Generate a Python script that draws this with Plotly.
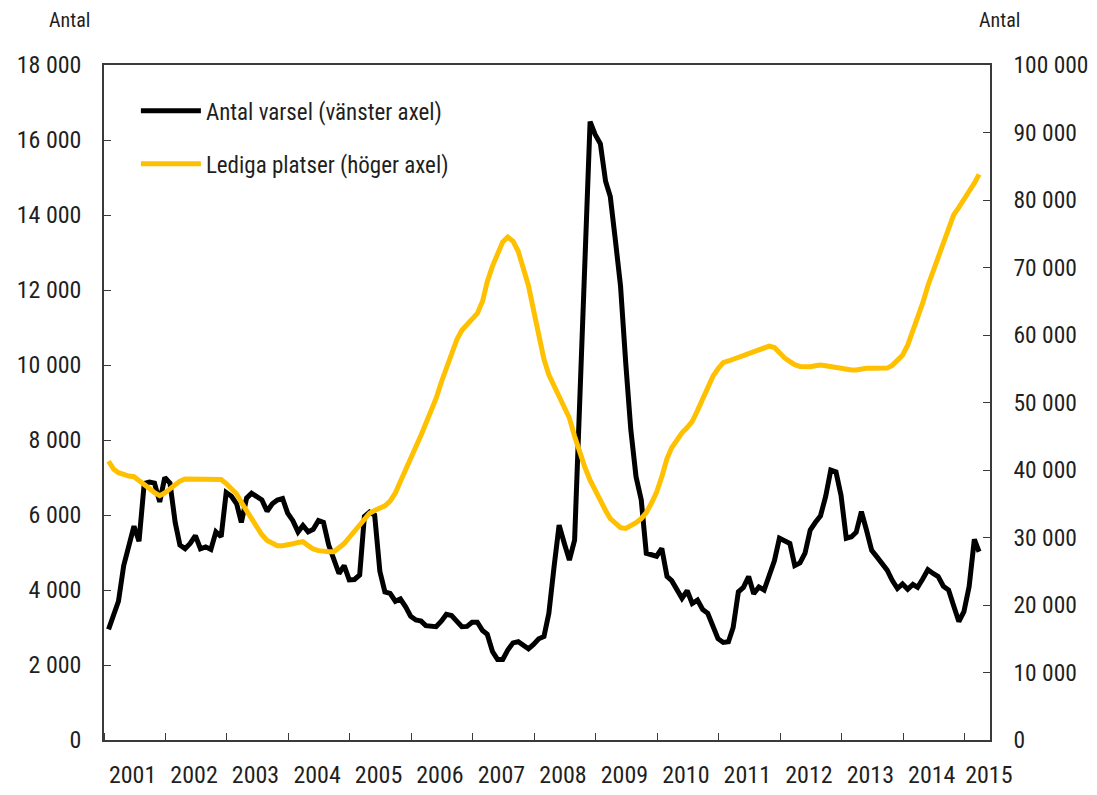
import plotly.graph_objects as go

# ---- data (monthly, Jan 2001 - Mar 2015) ----
start_year = 2001
n_months = 171
month_dates = [f"{start_year + i // 12}-{i % 12 + 1:02d}-28" for i in range(n_months)]

varsel = [
    2950, 3350, 3700, 4650, 5200, 5700, 5300, 6840, 6880, 6850, 6350, 7000,
    6850, 5800, 5200, 5100, 5240, 5450, 5100, 5150, 5080, 5550, 5420, 6600,
    6500, 6300, 5800, 6450, 6580, 6500, 6400, 6100, 6300, 6400, 6440, 6050,
    5850, 5550, 5720, 5550, 5620, 5850, 5800, 5200, 4800, 4440, 4650, 4270,
    4280, 4400, 5960, 6080, 6000, 4500, 3950, 3910, 3700, 3760, 3550, 3300,
    3200, 3170, 3050, 3020, 3020, 3170, 3350, 3320, 3150, 3020, 3030, 3140,
    3140, 2920, 2820, 2360, 2150, 2150, 2400, 2590, 2620, 2520, 2430, 2550,
    2700, 2760, 3380, 4620, 5730, 5240, 4800, 5330, 9300, 13000, 16490, 16150,
    15900, 14900, 14490, 13300, 12100, 10040, 8270, 7020, 6400, 4980, 4950, 4900,
    5110, 4360, 4250, 4000, 3780, 3980, 3640, 3730, 3480, 3380, 3050, 2700,
    2600, 2620, 3000, 3950, 4070, 4360, 3900, 4080, 4000, 4420, 4780, 5380,
    5320, 5240, 4650, 4720, 4980, 5600, 5800, 5980, 6500, 7200, 7150, 6520,
    5380, 5420, 5540, 6090, 5600, 5060, 4890, 4700, 4530, 4260, 4040, 4160,
    4020, 4150, 4070, 4300, 4540, 4440, 4360, 4100, 4000, 3580, 3160, 3420,
    4090, 5350, 5020,
]

lediga = [
    41300, 40100, 39600, 39250, 39100, 39000, 38500, 37850, 37250, 36650, 36200, 36600,
    37200, 37850, 38350, 38670, 38670, 38670, 38670, 38670, 38670, 38670, 38600, 38000,
    37300, 36450, 35200, 33900, 32650, 31450, 30400, 29550, 29100, 28790, 28790, 28850,
    29070, 29250, 29370, 28800, 28300, 28050, 27900, 27900, 27900, 28400, 29100, 30000,
    30900, 31900, 32850, 33600, 34000, 34350, 34700, 35400, 36600, 38300, 39950, 41700,
    43400, 45200, 46900, 48600, 50600, 53000, 55200, 57200, 59300, 60700, 61600, 62200,
    63200, 65000, 67900, 70200, 72200, 73800, 74500, 73900, 72400, 70100, 67300, 63700,
    59800, 56400, 54100, 52500, 51000, 49400, 47700, 45000, 42500, 40400, 38500, 36900,
    35400, 34000, 32800, 32000, 31450, 31350, 31700, 32200, 32800, 33700, 35100, 36700,
    39000, 41700, 43300, 44500, 45500, 46300, 47200, 48800, 50500, 52300, 53900, 55000,
    55900, 56150, 56400, 56700, 57100, 57400, 57650, 57900, 58150, 58350, 58150, 57300,
    56600, 56050, 55600, 55350, 55310, 55310, 55450, 55550, 55450, 55320, 55100, 54900,
    54810, 54810, 54810, 55000, 55060, 55060, 55060, 55060, 55100, 55500, 56200, 57000,
    58500, 60500, 62500, 64800, 67300, 69500, 71500, 73300, 75800, 77800, 78900, 80200,
    81300, 82500, 83800,
]

year_labels = [str(y) for y in range(2001, 2016)]
year_label_dates = [f"{y}-06-20" for y in range(2001, 2015)] + ["2015-05-25"]

name_varsel = "Antal varsel (vänster axel)"
name_lediga = "Lediga platser (höger axel)"

FONT = "Roboto Condensed, Roboto, Liberation Sans, sans-serif"
TXT = "#1f1f1f"
AXC = "#3a3a3a"

fig = go.Figure()
fig.add_trace(go.Scatter(
    x=month_dates, y=varsel, name=name_varsel, mode="lines",
    line=dict(color="#000000", width=5), yaxis="y", legendgroup="a",
))
fig.add_trace(go.Scatter(
    x=month_dates, y=lediga, name=name_lediga, mode="lines",
    line=dict(color="#FFC000", width=5), yaxis="y2", legendgroup="b",
))

fig.update_layout(
    width=1089, height=787,
    margin=dict(l=96, r=107, t=57, b=55),
    paper_bgcolor="white", plot_bgcolor="white",
    font=dict(family=FONT, size=24, color=TXT),
    separators=", ",
    showlegend=True,
    legend=dict(
        x=0.036, y=0.964, xanchor="left", yanchor="top",
        bgcolor="rgba(0,0,0,0)", font=dict(family=FONT, size=23, color=TXT),
        tracegroupgap=20, itemwidth=60,
    ),
    xaxis=dict(
        type="date", automargin=False,
        range=["2001-01-01", "2015-06-01"],
        tickmode="array", tickvals=year_label_dates, ticktext=year_labels,
        tickangle=0, tickfont=dict(family=FONT, size=24),
        ticks="", showgrid=False, zeroline=False,
        showline=True, linecolor=AXC, linewidth=1.5, mirror=True,
        ticklabelstandoff=12,
        minor=dict(ticks="inside", ticklen=7, tickwidth=1.2, tickcolor=AXC,
                   dtick="M12", tick0="2001-01-01", showgrid=False),
    ),
    yaxis=dict(
        range=[0, 18000], dtick=2000, tickformat=",d", automargin=False,
        tickfont=dict(family=FONT, size=24),
        ticks="inside", ticklen=7, tickwidth=1.2, tickcolor=AXC,
        showgrid=False, zeroline=False,
        showline=True, linecolor=AXC, linewidth=1.5,
        ticklabelstandoff=16,
    ),
    yaxis2=dict(
        range=[0, 100000], dtick=10000, tickformat=",d", automargin=False,
        tickfont=dict(family=FONT, size=23.5),
        overlaying="y", side="right",
        ticks="inside", ticklen=7, tickwidth=1.2, tickcolor=AXC,
        showgrid=False, zeroline=False,
        showline=True, linecolor=AXC, linewidth=1.5,
        ticklabelstandoff=17,
    ),
    annotations=[
        dict(text="Antal", xref="paper", yref="paper", x=-0.039, y=1.066,
             xanchor="center", yanchor="middle", showarrow=False,
             font=dict(family=FONT, size=20, color=TXT)),
        dict(text="Antal", xref="paper", yref="paper", x=1.011, y=1.066,
             xanchor="center", yanchor="middle", showarrow=False,
             font=dict(family=FONT, size=20, color=TXT)),
    ],
)

fig.write_html("out.html")
